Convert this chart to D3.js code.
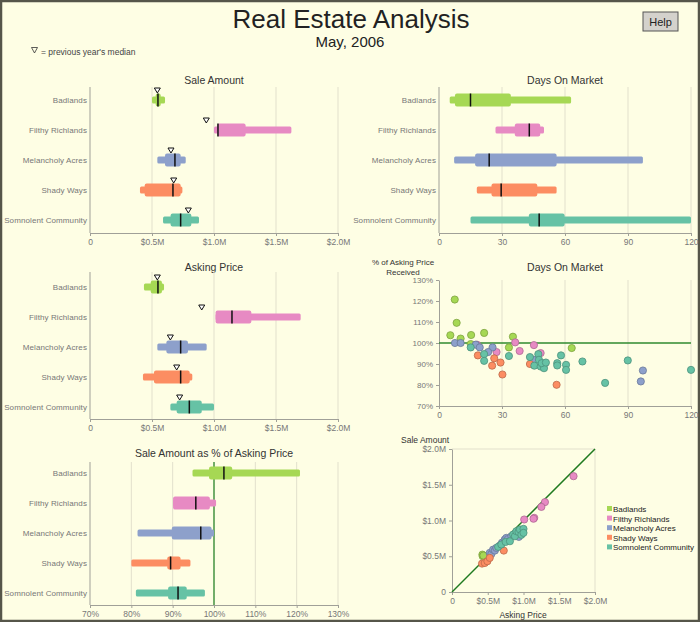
<!DOCTYPE html>
<html>
<head>
<meta charset="utf-8">
<script src="https://cdn.jsdelivr.net/npm/d3@7"></script>
<style>
  html, body { margin: 0; padding: 0; background: #fefee4; }
  svg { display: block; font-family: "Liberation Sans", Arial, sans-serif; }
  .axis path, .axis line { stroke: #a0a098; }
  .axis text { fill: #777; font-size: 8.5px; font-family: "Liberation Sans", Arial, sans-serif; }
</style>
</head>
<body>
<script>
// 街区与配色
const neighborhoods = ['Badlands', 'Filthy Richlands', 'Melancholy Acres', 'Shady Ways', 'Somnolent Community'];
const colors = ['#a6d854', '#e78ac3', '#8da0cb', '#fc8d62', '#66c2a5'];

// 每个街区: [min, q1, median, q3, max]
const saleAmount = [[0.50, 0.53, 0.548, 0.57, 0.605], [1.00, 1.027, 1.032, 1.255, 1.624], [0.543, 0.605, 0.685, 0.731, 0.772], [0.403, 0.441, 0.669, 0.731, 0.745], [0.589, 0.65, 0.731, 0.817, 0.879]];
const salePrev = [0.543, 0.938, 0.653, 0.675, 0.793];

const askingPrice = [[0.435, 0.49, 0.548, 0.58, 0.597], [1.013, 1.013, 1.145, 1.301, 1.699], [0.543, 0.616, 0.731, 0.79, 0.941], [0.427, 0.516, 0.731, 0.804, 0.825], [0.648, 0.699, 0.801, 0.901, 1.0]];
const askingPrev = [0.543, 0.901, 0.648, 0.699, 0.723];

const daysOnMarket = [[5.1, 7.6, 15.0, 34.2, 62.9], [26.9, 36.1, 43.0, 48.2, 50.0], [7.2, 17.2, 23.9, 56.0, 97.1], [18.0, 25.0, 29.6, 46.8, 56.0], [15.0, 42.8, 47.7, 59.8, 120]];

const salePct = [[94.8, 98.8, 102.4, 104.4, 120.8], [90.1, 90.1, 95.6, 99.0, 100.5], [81.5, 89.8, 96.8, 99.4, 100], [80.0, 88.7, 89.5, 91.9, 94.3], [81.1, 88.9, 91.3, 93.4, 97.8]];

// 散点: [街区序号, 上市天数, 成交价占要价%]
const domPoints = [
  [0, 7.5, 120.7], [0, 8.4, 109.6], [0, 5.4, 103.7], [0, 10.3, 102.1], [0, 15.3, 103.8], [0, 21.5, 104.8], [0, 35.2, 103.0], [0, 33.3, 97.9], [0, 63.2, 97.6], [0, 15.1, 99.5],
  [1, 18.1, 99.2], [1, 27.4, 95.7], [1, 36.3, 100.3], [1, 38.4, 96.2], [1, 45.2, 99.0], [1, 48.4, 95.2], [1, 50.5, 90.4],
  [2, 7.6, 100], [2, 10.3, 100], [2, 17.5, 99.2], [2, 19.4, 97.9], [2, 25.5, 97.9], [2, 23.4, 95.7], [2, 97.1, 86.9], [2, 96.1, 81.7], [2, 45, 92],
  [3, 18.5, 94.1], [3, 25.3, 89.2], [3, 26.3, 92.7], [3, 29.3, 90.7], [3, 30.2, 85.0], [3, 43.3, 90.0], [3, 56.0, 80.1],
  [4, 15.1, 97.9], [4, 21.5, 94.7], [4, 21.5, 91.5], [4, 33.3, 93.8], [4, 43.3, 93.3], [4, 45.4, 89.2], [4, 47.3, 94.7], [4, 47.6, 92.0], [4, 48.4, 88.8], [4, 50.0, 88.0], [4, 48.9, 90.4], [4, 50.9, 90.7], [4, 56.3, 90.4], [4, 56.3, 89.3], [4, 58.1, 94.1], [4, 60.5, 89.6], [4, 60.5, 87.2], [4, 68.3, 91.2], [4, 79.1, 81.0], [4, 89.9, 91.7], [4, 120, 87.2]
];

// 散点: [街区序号, 要价(M), 成交价(M)]
const pricePoints = [
  [0, 0.425, 0.523], [0, 0.43, 0.50], [0, 0.44, 0.51],
  [1, 1.70, 1.62], [1, 1.30, 1.257], [1, 1.25, 1.19], [1, 1.15, 1.037], [1, 1.14, 1.025], [1, 1.01, 1.014],
  [2, 0.528, 0.547], [2, 0.55, 0.53], [2, 0.575, 0.593], [2, 0.60, 0.58], [2, 0.62, 0.617], [2, 0.668, 0.65], [2, 0.70, 0.69], [2, 0.738, 0.734], [2, 0.76, 0.757], [2, 0.78, 0.74], [2, 0.83, 0.78], [2, 0.935, 0.771],
  [3, 0.42, 0.397], [3, 0.458, 0.406], [3, 0.495, 0.43], [3, 0.528, 0.477], [3, 0.724, 0.579],
  [4, 0.645, 0.631], [4, 0.69, 0.664], [4, 0.75, 0.70], [4, 0.81, 0.71], [4, 0.855, 0.804], [4, 0.88, 0.78], [4, 0.9, 0.85], [4, 0.93, 0.84], [4, 0.95, 0.874], [4, 0.97, 0.80], [4, 1.0, 0.883], [4, 1.0, 0.827]
];

const moneyTicks = [0, 0.5, 1.0, 1.5, 2.0];
const dayTicks = [0, 30, 60, 90, 120];
const pctTicks = [70, 80, 90, 100, 110, 120, 130];
const money = v => v === 0 ? '0' : '$' + v.toFixed(1) + 'M';
const pct = v => v + '%';

const width = 700, height = 622;
const svg = d3.select('body').append('svg')
    .attr('width', width)
    .attr('height', height);

svg.append('rect')
    .attr('x', 1).attr('y', 1)
    .attr('width', width - 2).attr('height', height - 2)
    .attr('fill', '#fefee4')
    .attr('stroke', '#56564a')
    .attr('stroke-width', 2.5);

// 标题
svg.append('text')
    .attr('x', 351).attr('y', 28)
    .attr('text-anchor', 'middle')
    .style('font-size', '26px')
    .attr('fill', '#222')
    .text('Real Estate Analysis');
svg.append('text')
    .attr('x', 350).attr('y', 47)
    .attr('text-anchor', 'middle')
    .style('font-size', '15px')
    .attr('fill', '#222')
    .text('May, 2006');

// Help 按钮
svg.append('rect')
    .attr('x', 643).attr('y', 12).attr('width', 35).attr('height', 19)
    .attr('fill', '#d4d2cc').attr('stroke', '#555').attr('stroke-width', 1);
svg.append('text')
    .attr('x', 660.5).attr('y', 25.5)
    .attr('text-anchor', 'middle')
    .style('font-size', '11px')
    .attr('fill', '#222')
    .text('Help');

// 图注
svg.append('path')
    .attr('d', 'M31.5,47.5 L37.5,47.5 L34.5,53 Z')
    .attr('fill', 'none').attr('stroke', '#333').attr('stroke-width', 0.8);
svg.append('text')
    .attr('x', 41).attr('y', 55)
    .style('font-size', '8.5px')
    .attr('fill', '#444')
    .text("= previous year's median");

function styleAxis(g) {
    g.attr('class', 'axis');
    g.select('.domain').attr('stroke', '#a0a098');
}

function boxPanel(cfg) {
    const g = svg.append('g');
    const x = d3.scaleLinear().domain(cfg.domain).range(cfg.xRange);
    const y = d3.scaleBand().domain(neighborhoods).range([cfg.firstRow - 15, cfg.firstRow + 135]);
    const cy = d => y(d) + y.bandwidth() / 2;
    const left = cfg.xRange[0];

    g.append('text')
        .attr('x', (cfg.xRange[0] + cfg.xRange[1]) / 2)
        .attr('y', cfg.titleY)
        .attr('text-anchor', 'middle')
        .style('font-size', '10.5px')
        .attr('fill', '#333')
        .text(cfg.title);

    // 网格线
    g.selectAll('.grid')
        .data(cfg.ticks.slice(1))
        .enter().append('line')
        .attr('x1', d => x(d)).attr('x2', d => x(d))
        .attr('y1', cfg.top).attr('y2', cfg.axisY)
        .attr('stroke', '#e2e0cc');

    g.append('line')
        .attr('x1', left).attr('x2', left)
        .attr('y1', cfg.top).attr('y2', cfg.axisY)
        .attr('stroke', '#a0a098');

    const ax = g.append('g')
        .attr('transform', `translate(0,${cfg.axisY})`)
        .call(d3.axisBottom(x).tickValues(cfg.ticks).tickFormat(cfg.fmt).tickSize(3).tickSizeOuter(0));
    styleAxis(ax);

    if (cfg.refLine !== undefined) {
        g.append('line')
            .attr('x1', x(cfg.refLine)).attr('x2', x(cfg.refLine))
            .attr('y1', cfg.top).attr('y2', cfg.axisY)
            .attr('stroke', '#2f8a2f').attr('stroke-width', 1.3);
    }

    g.selectAll('.cat')
        .data(neighborhoods)
        .enter().append('text')
        .attr('x', left - 3)
        .attr('y', d => cy(d) + 3)
        .attr('text-anchor', 'end')
        .style('font-size', '8px')
        .style('letter-spacing', '0.1px')
        .attr('fill', '#777')
        .text(d => d);

    const rows = g.selectAll('.row')
        .data(neighborhoods)
        .enter().append('g');

    // 须线
    rows.append('rect')
        .attr('x', (d, i) => x(cfg.stats[i][0]))
        .attr('y', d => cy(d) - 3.5)
        .attr('width', (d, i) => x(cfg.stats[i][4]) - x(cfg.stats[i][0]))
        .attr('height', 7)
        .attr('rx', 1.5)
        .attr('fill', (d, i) => colors[i]);
    // 箱体
    rows.append('rect')
        .attr('x', (d, i) => x(cfg.stats[i][1]))
        .attr('y', d => cy(d) - 6.5)
        .attr('width', (d, i) => Math.max(x(cfg.stats[i][3]) - x(cfg.stats[i][1]), 1))
        .attr('height', 13)
        .attr('rx', 2)
        .attr('fill', (d, i) => colors[i]);
    // 中位数
    rows.append('line')
        .attr('x1', (d, i) => x(cfg.stats[i][2]))
        .attr('x2', (d, i) => x(cfg.stats[i][2]))
        .attr('y1', d => cy(d) - 6.5)
        .attr('y2', d => cy(d) + 6.5)
        .attr('stroke', '#111')
        .attr('stroke-width', 1.5);

    if (cfg.prev) {
        rows.append('path')
            .attr('transform', (d, i) => `translate(${x(cfg.prev[i])},${cy(d) - 9.5})`)
            .attr('d', 'M-3,-2.5 L3,-2.5 L0,2.5 Z')
            .attr('fill', '#fff')
            .attr('stroke', '#111')
            .attr('stroke-width', 1);
    }
}

boxPanel({ title: 'Sale Amount', titleY: 84, top: 87, firstRow: 100, axisY: 233,
    xRange: [90, 338], domain: [0, 2], ticks: moneyTicks, fmt: money, stats: saleAmount, prev: salePrev });
boxPanel({ title: 'Days On Market', titleY: 84, top: 87, firstRow: 100, axisY: 233,
    xRange: [439, 691], domain: [0, 120], ticks: dayTicks, fmt: d => d, stats: daysOnMarket });
boxPanel({ title: 'Asking Price', titleY: 271, top: 272, firstRow: 287, axisY: 419,
    xRange: [90, 338], domain: [0, 2], ticks: moneyTicks, fmt: money, stats: askingPrice, prev: askingPrev });
boxPanel({ title: 'Sale Amount as % of Asking Price', titleY: 457, top: 462, firstRow: 473, axisY: 605,
    xRange: [90, 338], domain: [70, 130], ticks: pctTicks, fmt: pct, stats: salePct, refLine: 100 });

// 散点图1: 上市天数 vs 成交比例
{
    const g = svg.append('g');
    const x = d3.scaleLinear().domain([0, 120]).range([439, 691]);
    const y = d3.scaleLinear().domain([70, 130]).range([406, 280]);

    g.append('text')
        .attr('x', 565).attr('y', 271)
        .attr('text-anchor', 'middle')
        .style('font-size', '10.5px')
        .attr('fill', '#333')
        .text('Days On Market');
    g.append('text')
        .attr('x', 403).attr('y', 265)
        .attr('text-anchor', 'middle')
        .style('font-size', '8px')
        .attr('fill', '#333')
        .text('% of Asking Price');
    g.append('text')
        .attr('x', 403).attr('y', 275)
        .attr('text-anchor', 'middle')
        .style('font-size', '8px')
        .attr('fill', '#333')
        .text('Received');

    g.selectAll('.grid')
        .data(dayTicks.slice(1))
        .enter().append('line')
        .attr('x1', d => x(d)).attr('x2', d => x(d))
        .attr('y1', y(130)).attr('y2', y(70))
        .attr('stroke', '#e2e0cc');

    const ax = g.append('g')
        .attr('transform', `translate(0,${y(70)})`)
        .call(d3.axisBottom(x).tickValues(dayTicks).tickSize(3).tickSizeOuter(0));
    styleAxis(ax);
    const ay = g.append('g')
        .attr('transform', `translate(${x(0)},0)`)
        .call(d3.axisLeft(y).tickValues(pctTicks).tickFormat(pct).tickSize(3).tickSizeOuter(0));
    styleAxis(ay);
    ay.selectAll('text').style('font-size', '8px');

    g.append('line')
        .attr('x1', x(0)).attr('x2', x(120))
        .attr('y1', y(100)).attr('y2', y(100))
        .attr('stroke', '#2f8a2f').attr('stroke-width', 1.3);

    g.selectAll('.dot')
        .data(domPoints)
        .enter().append('circle')
        .attr('cx', d => x(d[1]))
        .attr('cy', d => y(d[2]))
        .attr('r', 3.6)
        .attr('fill', d => colors[d[0]])
        .attr('stroke', d => d3.color(colors[d[0]]).darker(0.8))
        .attr('stroke-width', 0.8);
}

// 散点图2: 要价 vs 成交价
{
    const g = svg.append('g');
    const x = d3.scaleLinear().domain([0, 2]).range([452, 595]);
    const y = d3.scaleLinear().domain([0, 2]).range([592, 449]);

    g.append('text')
        .attr('x', 401).attr('y', 443)
        .style('font-size', '8.5px')
        .attr('fill', '#333')
        .text('Sale Amount');
    g.append('text')
        .attr('x', 523).attr('y', 618)
        .attr('text-anchor', 'middle')
        .style('font-size', '8.5px')
        .attr('fill', '#333')
        .text('Asking Price');

    g.append('path')
        .attr('d', `M${x(0)},${y(2)} L${x(2)},${y(2)} L${x(2)},${y(0)}`)
        .attr('fill', 'none')
        .attr('stroke', '#e2e0cc');

    const ax = g.append('g')
        .attr('transform', `translate(0,${y(0)})`)
        .call(d3.axisBottom(x).tickValues(moneyTicks).tickFormat(money).tickSize(3).tickSizeOuter(0));
    styleAxis(ax);
    const ay = g.append('g')
        .attr('transform', `translate(${x(0)},0)`)
        .call(d3.axisLeft(y).tickValues(moneyTicks).tickFormat(money).tickSize(3).tickSizeOuter(0));
    styleAxis(ay);

    g.append('line')
        .attr('x1', x(0)).attr('y1', y(0))
        .attr('x2', x(2)).attr('y2', y(2))
        .attr('stroke', '#1f7a1f').attr('stroke-width', 1.5);

    g.selectAll('.dot')
        .data(pricePoints)
        .enter().append('circle')
        .attr('cx', d => x(d[1]))
        .attr('cy', d => y(d[2]))
        .attr('r', 3.6)
        .attr('fill', d => colors[d[0]])
        .attr('stroke', d => d3.color(colors[d[0]]).darker(0.8))
        .attr('stroke-width', 0.8);

    // 图例
    const legend = g.append('g').attr('transform', 'translate(607,509)');
    neighborhoods.forEach((d, i) => {
        legend.append('rect')
            .attr('x', 0).attr('y', i * 9.6 - 3)
            .attr('width', 5).attr('height', 5)
            .attr('fill', colors[i]);
        legend.append('text')
            .attr('x', 6).attr('y', i * 9.6 + 3)
            .style('font-size', '8px')
            .attr('fill', '#222')
            .text(d);
    });
}
</script>
</body>
</html>
